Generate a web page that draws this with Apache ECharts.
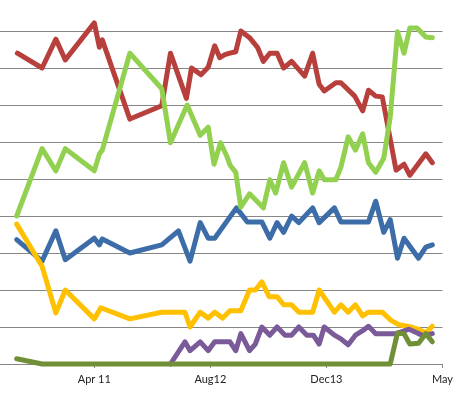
<!DOCTYPE html>
<html>
<head>
<meta charset="utf-8">
<script src="https://cdn.jsdelivr.net/npm/echarts@6/dist/echarts.min.js"></script>
<style>
  html, body { margin: 0; padding: 0; background: #fff; }
  #chart { width: 456px; height: 398px; }
</style>
</head>
<body>
<div id="chart"></div>
<script>
// x = months since Jan 2010, y = percent
var tickValues = [15, 31, 47, 63];
var tickLabels = ["Apr 11", "Aug12", "Dec13", "May"];

var labour = [[4.4,42.0],[7.8,40.0],[9.7,43.9],[11.0,41.1],[15.0,46.1],[15.7,42.8],[16.1,43.8],[19.9,33.1],[24.3,34.9],[25.5,42.0],[27.7,35.9],[28.4,40.0],[29.7,39.1],[30.7,40.1],[31.6,43.0],[32.3,41.4],[33.0,41.8],[33.7,42.0],[34.5,42.2],[35.2,45.0],[36.4,44.1],[37.5,42.8],[38.3,40.9],[39.2,42.0],[40.2,42.0],[41.1,40.0],[42.2,40.9],[44.0,38.9],[45.1,42.0],[46.0,37.8],[46.7,36.9],[48.3,38.0],[49.0,38.0],[50.9,36.2],[52.0,34.2],[52.8,37.0],[53.8,36.2],[54.7,36.1],[56.6,26.2],[57.7,27.0],[58.5,25.5],[60.7,28.4],[61.6,27.2]];

var snp = [[4.3,20.0],[7.8,29.1],[9.7,26.1],[11.0,29.1],[15.0,26.1],[15.7,28.4],[16.1,28.9],[19.9,42.0],[24.3,37.2],[25.5,29.9],[27.8,35.0],[29.6,30.9],[30.7,32.0],[31.5,27.0],[32.4,29.9],[33.3,28.0],[33.7,26.9],[34.5,25.9],[35.2,21.2],[36.4,23.0],[38.3,21.1],[39.2,24.9],[40.0,23.1],[41.1,27.2],[42.2,23.9],[44.0,27.2],[45.1,23.1],[46.0,26.1],[46.7,24.9],[48.3,24.9],[49.0,26.6],[50.0,30.7],[51.0,28.9],[52.0,31.1],[52.8,27.2],[53.8,25.9],[54.9,27.8],[55.8,33.4],[56.8,44.9],[57.7,42.0],[58.5,45.4],[59.5,45.4],[60.7,44.2],[61.6,44.1]];

var conservative = [[4.3,16.8],[7.8,13.9],[9.7,18.0],[11.0,14.1],[15.0,17.0],[15.7,16.1],[16.1,16.9],[19.9,15.0],[24.3,16.1],[26.6,18.0],[28.2,13.9],[29.6,19.1],[30.7,17.0],[31.6,17.0],[34.6,21.1],[36.1,19.2],[38.1,19.2],[39.2,17.0],[40.2,19.1],[41.1,17.8],[42.2,20.0],[43.2,19.1],[45.1,21.1],[46.0,19.1],[48.1,21.1],[49.0,19.2],[52.8,19.2],[53.8,22.0],[54.9,17.8],[55.8,19.5],[56.8,14.3],[57.7,17.0],[59.7,14.3],[60.7,15.8],[61.6,16.1]];

var libDem = [[4.3,18.9],[7.8,13.2],[9.7,6.9],[11.0,10.0],[15.0,6.1],[15.9,7.6],[19.9,6.1],[24.3,7.0],[27.5,7.0],[28.2,5.0],[29.6,7.0],[30.7,6.2],[31.6,7.0],[32.7,6.2],[33.7,7.2],[35.2,7.2],[36.4,10.0],[37.2,10.0],[38.1,11.1],[39.1,9.1],[40.2,9.1],[41.1,8.0],[42.2,8.0],[43.2,7.0],[45.1,7.0],[46.0,10.0],[48.1,7.0],[49.0,8.0],[50.0,7.0],[51.0,8.0],[52.0,6.5],[52.8,7.0],[54.7,7.0],[55.9,5.9],[57.0,5.3],[58.7,5.0],[59.9,4.6],[60.7,4.2],[61.6,5.1]];

var ukip = [[25.5,0],[27.5,3.0],[28.2,1.8],[29.6,3.0],[30.7,1.8],[31.6,3.0],[33.7,3.0],[34.5,1.8],[35.2,4.1],[36.4,1.8],[37.2,2.7],[38.1,5.0],[39.2,3.9],[40.2,5.0],[41.3,3.9],[42.2,3.9],[43.2,5.0],[44.3,3.9],[45.2,3.9],[46.0,2.7],[46.7,5.0],[48.1,3.9],[49.0,3.4],[50.0,2.6],[51.0,3.9],[52.0,4.5],[52.8,5.1],[53.8,4.1],[56.6,4.1],[58.4,4.7],[59.3,4.3],[60.4,3.8],[61.6,4.1]];

var greens = [[4.3,0.7],[7.8,0],[55.8,0],[56.8,4.2],[57.7,4.1],[58.5,2.7],[59.7,2.8],[60.7,4.1],[61.6,3.0]];

function lineSeries(name, data, color) {
  return {
    name: name,
    type: "line",
    data: data,
    showSymbol: false,
    symbol: "none",
    clip: false,
    lineStyle: { color: color, width: 5, join: "round", cap: "round" },
    emphasis: { disabled: true }
  };
}

var chart = echarts.init(document.getElementById("chart"));
chart.setOption({
  animation: false,
  backgroundColor: "#fff",
  grid: { left: 0, right: 7, top: 31, bottom: 34 },
  xAxis: {
    type: "value",
    min: 2,
    max: 63,
    splitLine: { show: false },
    axisLine: { show: true, lineStyle: { color: "#868686", width: 1 } },
    axisTick: { show: true, customValues: tickValues, length: 4, lineStyle: { color: "#868686" } },
    axisLabel: {
      customValues: tickValues,
      margin: 10,
      fontFamily: "Lato",
      fontSize: 11,
      color: "#222",
      formatter: function (v) {
        var i = tickValues.indexOf(v);
        return i >= 0 ? tickLabels[i] : "";
      }
    }
  },
  yAxis: {
    type: "value",
    min: 0,
    max: 45,
    interval: 5,
    axisLine: { show: false },
    axisTick: { show: false },
    axisLabel: { show: false },
    splitLine: { show: true, lineStyle: { color: "#868686", width: 1 } }
  },
  series: [
    lineSeries("Conservative", conservative, "#3D6DA8"),
    lineSeries("Labour", labour, "#B7403D"),
    lineSeries("Lib Dem", libDem, "#FFC000"),
    lineSeries("SNP", snp, "#92D050"),
    lineSeries("UKIP", ukip, "#7A5A98"),
    lineSeries("Green", greens, "#708F37")
  ]
});
</script>
</body>
</html>
